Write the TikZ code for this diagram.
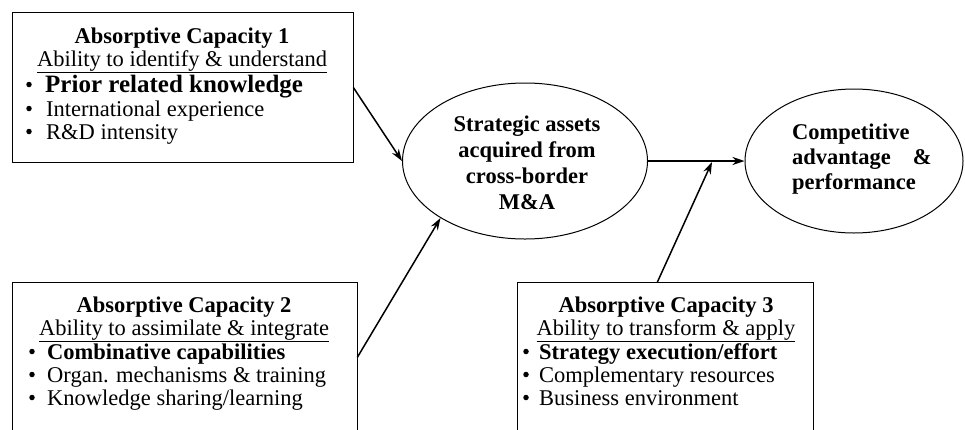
\documentclass[tikz,border=0pt]{standalone}
\usepackage{fontspec}
\setmainfont{Liberation Serif}
\usetikzlibrary{shapes.geometric,arrows.meta}
\begin{document}
\begin{tikzpicture}[x=1pt,y=-1pt,
  box/.style={draw, line width=0.8pt, inner sep=0pt, anchor=north west},
  txt/.style={inner sep=0pt, anchor=base, font=\fontsize{22.5}{24}\selectfont},
  ttl/.style={txt, font=\bfseries\fontsize{22.5}{24}\selectfont},
  itm/.style={txt, anchor=base west},
  bitm/.style={itm, font=\bfseries\fontsize{22.5}{24}\selectfont},
  bigitm/.style={itm, font=\bfseries\fontsize{25}{27}\selectfont},
  bul/.style={circle, fill=black, inner sep=0pt, minimum size=5.5pt, yshift=7.5pt},
  ell/.style={draw, ellipse, line width=1pt, inner sep=0pt},
  etxt/.style={inner sep=0pt, anchor=base, font=\bfseries\fontsize{22.5}{24}\selectfont},
  arr/.style={line width=1.5pt, -{Stealth[length=12pt,width=8pt]}}]
\useasboundingbox (0,0) rectangle (965,429);
\clip (0,0) rectangle (965,429);

% boxes
\node[box, minimum width=341pt, minimum height=150pt] (b1) at (11.5,12) {};
\node[box, minimum width=345pt, minimum height=150pt] (b2) at (11.5,282) {};
\node[box, minimum width=296pt, minimum height=150pt] (b3) at (517,282) {};

% ellipses
\node[ell, minimum width=245pt, minimum height=156pt] (e1) at (525,161) {};
\node[ell, minimum width=218pt, minimum height=144pt] (e2) at (854,161) {};

% box 1 text
\node[ttl] (t1) at (182,43) {Absorptive Capacity 1};
\node[txt] (a1) at (182,66) {\underline{Ability to identify \& understand}};
\node[bul] (u11) at (29,92) {};
\node[bigitm] (i11) at (45,92) {Prior related knowledge};
\node[bul] (u12) at (29,116) {};
\node[itm] (i12) at (46,116) {International experience};
\node[bul] (u13) at (29,139) {};
\node[itm] (i13) at (46,139) {R\&D intensity};

% box 2 text
\node[ttl] (t2) at (184,312) {Absorptive Capacity 2};
\node[txt] (a2) at (184,335) {\underline{Ability to assimilate \& integrate}};
\node[bul] (u21) at (32,359) {};
\node[bitm] (i21) at (47,359) {Combinative capabilities};
\node[bul] (u22) at (32,382) {};
\node[itm] (i22) at (47,382) {Organ. mechanisms \& training};
\node[bul] (u23) at (32,405) {};
\node[itm] (i23) at (47,405) {Knowledge sharing/learning};

% box 3 text
\node[ttl] (t3) at (666,312) {Absorptive Capacity 3};
\node[txt] (a3) at (666,335) {\underline{Ability to transform \& apply}};
\node[bul] (u31) at (526,359) {};
\node[bitm] (i31) at (539,359) {Strategy execution/effort};
\node[bul] (u32) at (526,382) {};
\node[itm] (i32) at (539,382) {Complementary resources};
\node[bul] (u33) at (526,405) {};
\node[itm] (i33) at (539,405) {Business environment};

% ellipse 1 text
\node[etxt] (s1) at (527,131) {Strategic assets};
\node[etxt] (s2) at (527,157) {acquired from};
\node[etxt] (s3) at (527,183) {cross-border};
\node[etxt] (s4) at (527,209) {M\&A};

% ellipse 2 text
\node[etxt, anchor=base west] (c1) at (792,139) {Competitive};
\node[etxt, anchor=base west] (c2) at (792,164) {advantage\hspace{22pt}\&};
\node[etxt, anchor=base west] (c3) at (792,189) {performance};

% connectors
\coordinate (j) at (712,162);
\draw[arr] (b1.east) -- (e1.west);
\draw[arr] (b2.east) -- (e1.214);
\draw[arr] (e1.east) -- (e2.west);
\draw[arr] ([xshift=-8pt]b3.north) -- (j);
\end{tikzpicture}
\end{document}
